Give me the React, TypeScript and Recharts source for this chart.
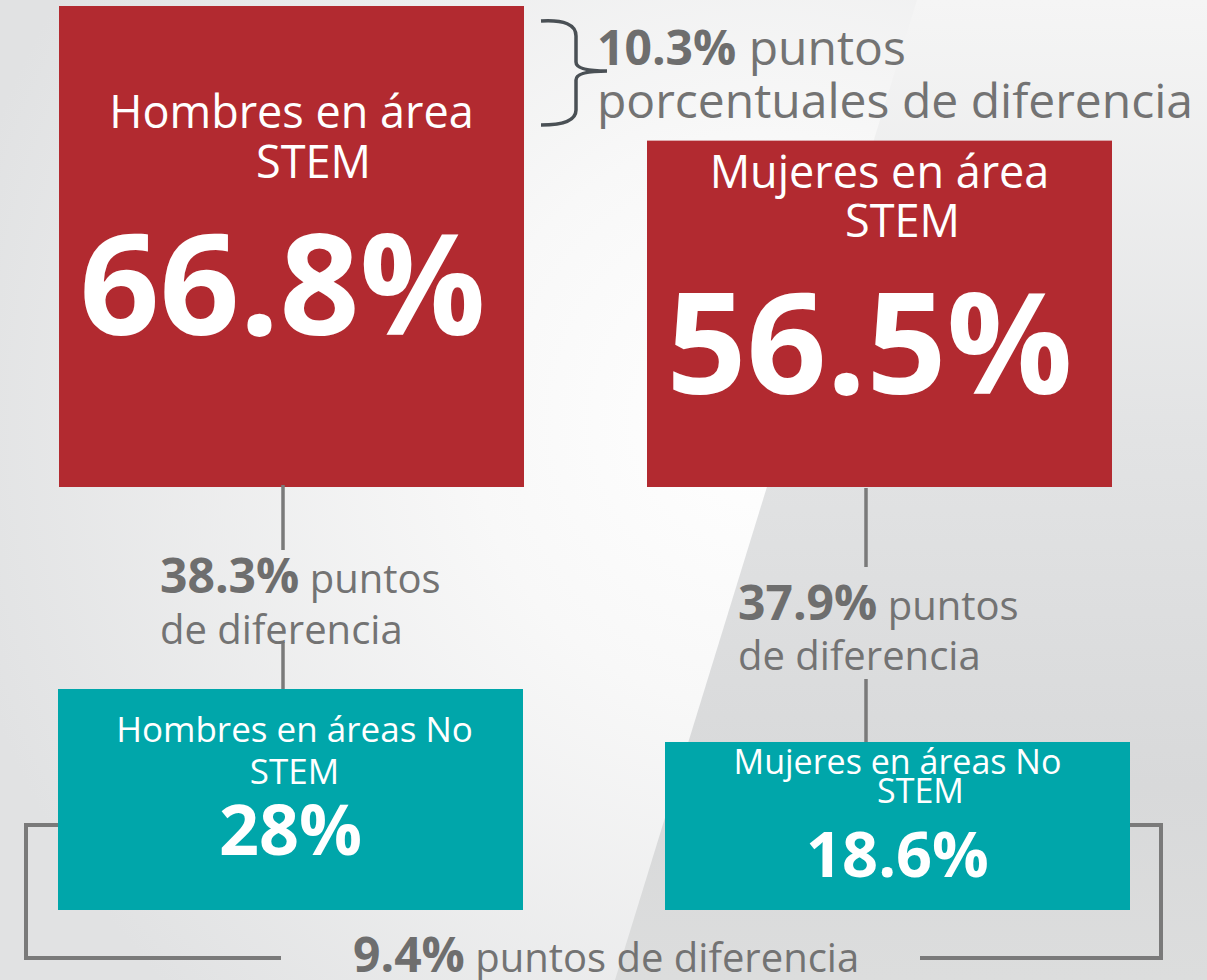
import { BarChart, Bar, XAxis, YAxis } from "recharts";

// categories and values
const stemGroups = ["Hombres en área STEM", "Mujeres en área STEM"];
const stemValues = [66.8, 56.5];
const noStemGroups = ["Hombres en áreas No STEM", "Mujeres en áreas No STEM"];
const noStemValues = [28, 18.6];
// differences as printed in the infographic
const gapValues = [10.3, 38.3, 37.9, 9.4];

const RED = "#b22a30";
const TEAL = "#00a6aa";
const GRAY = "#737373";
const LINE = "#7a7a7a";
const FONT = "'Open Sans', 'Noto Sans', sans-serif";

const stemData = stemGroups.map((g, i) => ({ group: g, value: stemValues[i] }));
const noStemData = noStemGroups.map((g, i) => ({ group: g, value: noStemValues[i] }));

// text layout inside each box, relative to box top / center
const stemLayout = [
  { titleDy: 122, stemDy: 172, stemDx: 22, valueDy: 329, valueDx: -9, titleSize: 45, valueSize: 140 },
  { titleDy: 47, stemDy: 96, stemDx: 23, valueDy: 253, valueDx: -10, titleSize: 45, valueSize: 140 },
];
const noStemLayout = [
  { titleDy: 53, stemDy: 95, stemDx: 4, valueDy: 166, valueDx: 0, titleSize: 35, valueSize: 70, titleDx: 4 },
  { titleDy: 32, stemDy: 61, stemDx: 23, valueDy: 135, valueDx: 0, titleSize: 34, valueSize: 63, titleDx: 0 },
];

const TOP_H = 487;
const BOT_H = 221;

const makeBox = (fill: string, layout: any[], plotBottom: number) => (props: any) => {
  const { x, y, width, background, index, payload } = props;
  const bottom = background ? background.y + background.height : plotBottom;
  const cx = x + width / 2;
  const l = layout[index];
  const title = payload.group.replace(/ STEM$/, "");
  return (
    <g>
      <rect x={x} y={y} width={width} height={bottom - y} fill={fill} />
      <text x={cx + (l.titleDx || 0)} y={y + l.titleDy} textAnchor="middle" fill="#fff" fontSize={l.titleSize} fontFamily={FONT}>
        {title}
      </text>
      <text x={cx + l.stemDx} y={y + l.stemDy} textAnchor="middle" fill="#fff" fontSize={l.titleSize} fontFamily={FONT}>
        STEM
      </text>
      <text x={cx + l.valueDx} y={y + l.valueDy} textAnchor="middle" fill="#fff" fontSize={l.valueSize} fontWeight={700} fontFamily={FONT}>
        {`${payload.value}%`}
      </text>
    </g>
  );
};

const GapLabel = ({ x, y, value, first, second, size, boldSize, lh }: any) => (
  <text x={x} y={y} fill={GRAY} fontSize={size} fontFamily={FONT}>
    <tspan fontWeight={700} fill="#6e6e6e" fontSize={boldSize}>{`${value}%`}</tspan>
    <tspan>{` ${first}`}</tspan>
    {second && (
      <tspan x={x} dy={lh}>
        {second}
      </tspan>
    )}
  </text>
);

const App = () => {
  return (
    <div style={{ position: "absolute", left: 0, top: 0, width: 1207, height: 980, overflow: "hidden" }}>
      <svg width={1207} height={980} style={{ position: "absolute", left: 0, top: 0 }}>
        <defs>
          <radialGradient id="bgL" cx={760} cy={420} r={820} gradientUnits="userSpaceOnUse">
            <stop offset="0" stopColor="#ffffff" />
            <stop offset="0.35" stopColor="#f8f8f8" />
            <stop offset="1" stopColor="#e1e2e3" />
          </radialGradient>
          <linearGradient id="bgR" x1="0" y1="0" x2="0" y2="1">
            <stop offset="0" stopColor="#f5f5f5" />
            <stop offset="0.45" stopColor="#e2e3e4" />
            <stop offset="0.8" stopColor="#d8d9da" />
            <stop offset="1" stopColor="#dcdddd" />
          </linearGradient>
        </defs>
        <rect x={0} y={0} width={1207} height={980} fill="url(#bgL)" />
        <polygon points="917,0 1207,0 1207,980 615,980" fill="url(#bgR)" />
      </svg>

      <div style={{ position: "absolute", left: -3.5, top: 0 }}>
        <BarChart width={1176} height={TOP_H} data={stemData} margin={{ top: 6, right: 0, bottom: 0, left: 0 }}>
          <XAxis dataKey="group" hide />
          <YAxis type="number" domain={[30, 66.8]} hide />
          <Bar dataKey="value" barSize={465} isAnimationActive={false} shape={makeBox(RED, stemLayout, TOP_H)} />
        </BarChart>
      </div>

      <div style={{ position: "absolute", left: -13, top: 689 }}>
        <BarChart width={1214} height={BOT_H} data={noStemData} margin={{ top: 0, right: 0, bottom: 0, left: 0 }}>
          <XAxis dataKey="group" hide />
          <YAxis type="number" domain={[-11.2, 28]} hide />
          <Bar dataKey="value" barSize={465} isAnimationActive={false} shape={makeBox(TEAL, noStemLayout, BOT_H)} />
        </BarChart>
      </div>

      <svg width={1207} height={980} style={{ position: "absolute", left: 0, top: 0, pointerEvents: "none" }}>
        {/* brace between the two STEM boxes */}
        <path
          d="M541,21 Q576,19 576,36 L576,62 Q576,71 607,71 Q576,71 576,80 L576,110 Q576,125 541,125"
          fill="none"
          stroke="#4a5055"
          strokeWidth={3.5}
        />
        <GapLabel x={597} y={65} value={gapValues[0]} first="puntos" second="porcentuales de diferencia" size={48} boldSize={48} lh={53} />

        {/* connectors STEM -> No STEM */}
        <g stroke={LINE} strokeWidth={3.5}>
          <line x1={283} y1={485} x2={283} y2={550} />
          <line x1={283} y1={642} x2={283} y2={689} />
          <line x1={866} y1={488} x2={866} y2={567} />
          <line x1={866} y1={679} x2={866} y2={742} />
        </g>
        <GapLabel x={160} y={593} value={gapValues[1]} first="puntos" second="de diferencia" size={40} boldSize={48} lh={51} />
        <GapLabel x={738} y={620} value={gapValues[2]} first="puntos" second="de diferencia" size={40} boldSize={48} lh={50} />

        {/* bottom bracket */}
        <g stroke={LINE} strokeWidth={4} fill="none">
          <polyline points="58,825 26,825 26,958 281,958" />
          <polyline points="1130,825 1161,825 1161,958 920,958" />
        </g>
        <GapLabel x={353} y={972} value={gapValues[3]} first="puntos de diferencia" size={40} boldSize={48} lh={0} />
      </svg>
    </div>
  );
};

export default App;
